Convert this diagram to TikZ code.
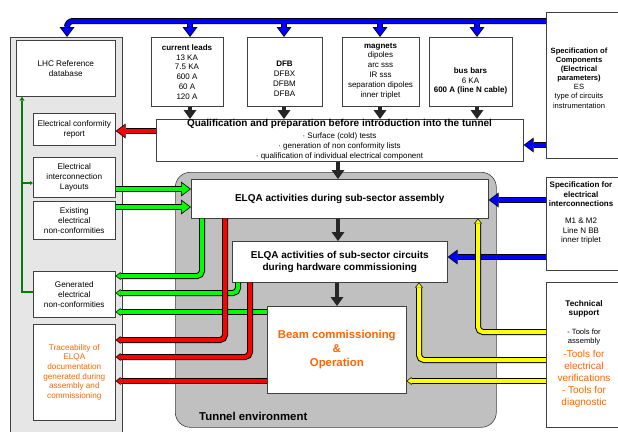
\documentclass[tikz,border=0pt]{standalone}
\usepackage{fontspec}
\setmainfont{Liberation Sans}
\usetikzlibrary{arrows.meta}
\definecolor{org}{HTML}{FF6600}
\definecolor{pgreen}{HTML}{00FF00}
\definecolor{pred}{HTML}{FF0000}
\definecolor{pblue}{HTML}{0000FF}
\definecolor{pyel}{HTML}{FFFF00}
\definecolor{dgreen}{HTML}{008000}
\definecolor{panelgray}{HTML}{E6E6E6}
\definecolor{tungray}{HTML}{C0C0C0}
\newcommand\fs[2]{\fontsize{#1}{#2}\selectfont}
\begin{document}
\begin{tikzpicture}[x=1pt,y=-1pt,
  box/.style={draw=black!75, fill=white, line width=0.6pt, anchor=north west, inner sep=0pt, align=center},
  txt/.style={inner sep=0pt, align=center},
  olF/.style={draw=black, line width=6pt, -{Triangle[length=10pt,width=15pt,line width=0pt]}},
  coF/.style={draw=#1, line width=4pt, shorten >=1.3pt, -{Triangle[length=8.2pt,width=12.2pt,line width=0pt]}},
  olT/.style={draw=black, line width=6pt, rounded corners=5pt, -{Triangle[length=5pt,width=8pt,line width=0pt]}},
  coT/.style={draw=#1, line width=4pt, rounded corners=5pt, shorten >=0.9pt, -{Triangle[length=3.8pt,width=5.6pt,line width=0pt]}},
  blk/.style={draw=black!85, line width=4.5pt, -{Triangle[length=9pt,width=13pt,line width=0pt]}},
  dg/.style={draw=dgreen, line width=2pt},
]
\useasboundingbox (0,0) rectangle (618,431);
\fill[white] (0,0) rectangle (618,431);

% background regions
\node[box, fill=panelgray, minimum width=112pt, minimum height=420pt] (panel) at (10,37) {};
\node[box, fill=tungray, rounded corners=15pt, minimum width=321pt, minimum height=255pt] (tunnel) at (175,172) {};
\node[txt, anchor=west, font=\fs{11.4}{14}\bfseries] (tenv) at (199,416) {Tunnel environment};

% left column
\node[box, minimum width=99pt, minimum height=56pt, font=\fs{8.2}{9.8}] (lhc) at (16,40) {LHC Reference\\database};
\node[box, minimum width=82pt, minimum height=32pt, font=\fs{8.2}{9.8}] (conf) at (33,113) {Electrical conformity\\report};
\node[box, minimum width=82pt, minimum height=40pt, font=\fs{8.2}{9.8}] (layo) at (33,157) {Electrical\\interconnection\\Layouts};
\node[box, minimum width=82pt, minimum height=38pt, font=\fs{8.2}{9.8}] (exis) at (33,201) {Existing\\electrical\\non-conformities};
\node[box, minimum width=82pt, minimum height=46pt, font=\fs{8.2}{9.8}] (gen) at (33,271) {Generated\\electrical\\non-conformities};
\node[box, minimum width=82pt, minimum height=96pt, font=\fs{8.2}{9.7}, text=org] (trace) at (33,324) {Traceability of\\ELQA\\documentation\\generated during\\assembly and\\commissioning};

% top boxes
\node[box, minimum width=72pt, minimum height=69pt] (curr) at (151,37) {};
\node[box, minimum width=75pt, minimum height=69pt] (dfb) at (247,37) {};
\node[box, minimum width=77pt, minimum height=69pt] (mag) at (342,37) {};
\node[box, minimum width=83pt, minimum height=69pt] (bus) at (429,37) {};
\node[txt, font=\fs{8}{9.9}] (currt) at (187,72) {\textbf{current leads}\\13 KA\\7.5 KA\\600 A\\60 A\\120 A};
\node[txt, font=\fs{8}{9.9}] (dfbt) at (284.5,79) {\textbf{DFB}\\DFBX\\DFBM\\DFBA};
\node[txt, font=\fs{8}{9.9}] (magt) at (380.5,71) {\textbf{magnets}\\dipoles\\arc sss\\IR sss\\separation dipoles\\inner triplet};
\node[txt, font=\fs{8}{9.2}] (bust) at (470.5,81) {\textbf{bus bars}\\6 KA\\\textbf{600 A (line N cable)}};

% qualification
\node[box, minimum width=367pt, minimum height=42pt] (qual) at (156,119) {};
\node[txt, font=\fs{10}{12}\bfseries] (qualt) at (339.5,123.5) {Qualification and preparation before introduction into the tunnel};
\node[txt, font=\fs{8}{9.6}] (quall) at (339.5,146.5) {· Surface (cold) tests\\· generation of non conformity lists\\· qualification of individual electrical component};

% right column
\node[box, minimum width=76pt, minimum height=146pt] (spec1) at (546,12) {};
\node[txt, font=\fs{7.6}{9.1}] (spec1t) at (579,78) {\textbf{Specification of}\\\textbf{Components}\\\textbf{(Electrical}\\\textbf{parameters)}\\ES\\type of circuits\\instrumentation};
\node[box, minimum width=76pt, minimum height=93pt] (spec2) at (546,177) {};
\node[txt, font=\fs{8}{9.7}] (spec2t) at (581,213) {\textbf{Specification for}\\\textbf{electrical}\\\textbf{interconnections}\\[7pt]M1 \& M2\\Line N BB\\inner triplet};
\node[box, minimum width=76pt, minimum height=145pt] (tech) at (546,282) {};
\node[txt, font=\fs{8.2}{9}\bfseries] (techa) at (584,308.5) {Technical\\support};
\node[txt, font=\fs{7.6}{8.5}] (techb) at (584,337) {- Tools for\\assembly};
\node[txt, font=\fs{10}{12}, text=org] (techc) at (584,379) {-Tools for\\electrical\\verifications\\- Tools for\\diagnostic};

% tunnel boxes
\node[box, minimum width=297pt, minimum height=39pt, font=\fs{10}{12}\bfseries] (asm) at (191,179) {ELQA activities during sub-sector assembly};
\node[box, minimum width=215pt, minimum height=41pt, font=\fs{10}{12}\bfseries] (hw) at (232,241) {ELQA activities of sub-sector circuits\\during hardware commissioning};
\node[box, minimum width=139pt, minimum height=87pt, font=\fs{11.4}{14}\bfseries, text=org] (beam) at (267,306) {Beam commissioning\\\&\\Operation};

% black flow arrows
\draw[blk] (curr.south -| 190,0) -- (qual.north -| 190,0);
\draw[blk] (dfb.south -| 284,0) -- (qual.north -| 284,0);
\draw[blk] (mag.south -| 380,0) -- (qual.north -| 380,0);
\draw[blk] (bus.south -| 477,0) -- (qual.north -| 477,0);
\draw[blk] (qual.south -| 338,0) -- (asm.north -| 338,0);
\draw[blk] (asm.south -| 338,0) -- (hw.north -| 338,0);
\draw[blk] (hw.south -| 337,0) -- (beam.north -| 337,0);

% dark green line in panel
\coordinate (spine) at (22,183);
\draw[dg, -{Triangle[length=4pt,width=5pt,line width=0pt]}] (gen.west |- 0,292) -| (lhc.south -| 22,0);
\draw[dg, -{Triangle[length=3pt,width=4pt,line width=0pt]}] (spine) -- (layo.west |- spine);

% blue arrows
\coordinate (j1) at (190,21);
\coordinate (j2) at (284,21);
\coordinate (j3) at (380,21);
\coordinate (j4) at (477,21);
\draw[olF, rounded corners=6pt] (spec1.west |- 0,21) -| (panel.north -| 67,0);
\draw[olF] (j1) -- (curr.north -| j1);
\draw[olF] (j2) -- (dfb.north -| j2);
\draw[olF] (j3) -- (mag.north -| j3);
\draw[olF] (j4) -- (bus.north -| j4);
\draw[olF] (spec1.west |- 0,145) -- (qual.east |- 0,145);
\draw[olF] (spec2.west |- 0,200) -- (asm.east |- 0,200);
\draw[olF] (spec2.west |- 0,257) -- (hw.east |- 0,257);
\draw[coF=pblue, rounded corners=6pt] (spec1.west |- 0,21) -| (panel.north -| 67,0);
\draw[coF=pblue] (j1) -- (curr.north -| j1);
\draw[coF=pblue] (j2) -- (dfb.north -| j2);
\draw[coF=pblue] (j3) -- (mag.north -| j3);
\draw[coF=pblue] (j4) -- (bus.north -| j4);
\draw[coF=pblue] (spec1.west |- 0,145) -- (qual.east |- 0,145);
\draw[coF=pblue] (spec2.west |- 0,200) -- (asm.east |- 0,200);
\draw[coF=pblue] (spec2.west |- 0,257) -- (hw.east |- 0,257);

% red fat arrow
\draw[olF] (qual.west |- 0,131) -- (conf.east |- 0,131);
\draw[coF=pred] (qual.west |- 0,131) -- (conf.east |- 0,131);

% green fat arrows
\draw[olF] (layo.east |- 0,189) -- (asm.west |- 0,189);
\draw[olF] (exis.east |- 0,207) -- (asm.west |- 0,207);
\draw[coF=pgreen] (layo.east |- 0,189) -- (asm.west |- 0,189);
\draw[coF=pgreen] (exis.east |- 0,207) -- (asm.west |- 0,207);

% green thin
\draw[olT] (asm.south -| 202,0) |- (gen.east |- 0,276);
\draw[olT] (hw.south -| 238,0) |- (gen.east |- 0,293);
\draw[olT] (beam.west |- 0,312) -- (gen.east |- 0,312);
\draw[coT=pgreen] (asm.south -| 202,0) |- (gen.east |- 0,276);
\draw[coT=pgreen] (hw.south -| 238,0) |- (gen.east |- 0,293);
\draw[coT=pgreen] (beam.west |- 0,312) -- (gen.east |- 0,312);

% red thin
\draw[olT] (asm.south -| 225,0) |- (trace.east |- 0,340);
\draw[olT] (hw.south -| 250,0) |- (trace.east |- 0,357);
\draw[olT] (beam.west |- 0,381) -- (trace.east |- 0,381);
\draw[coT=pred] (asm.south -| 225,0) |- (trace.east |- 0,340);
\draw[coT=pred] (hw.south -| 250,0) |- (trace.east |- 0,357);
\draw[coT=pred] (beam.west |- 0,381) -- (trace.east |- 0,381);

% yellow
\draw[olT] (tech.west |- 0,332) -| (asm.south -| 478,0);
\draw[olT] (tech.west |- 0,360) -| (hw.south -| 419,0);
\draw[olT] (tech.west |- 0,381) -- (beam.east |- 0,381);
\draw[coT=pyel] (tech.west |- 0,332) -| (asm.south -| 478,0);
\draw[coT=pyel] (tech.west |- 0,360) -| (hw.south -| 419,0);
\draw[coT=pyel] (tech.west |- 0,381) -- (beam.east |- 0,381);
\end{tikzpicture}
\end{document}
